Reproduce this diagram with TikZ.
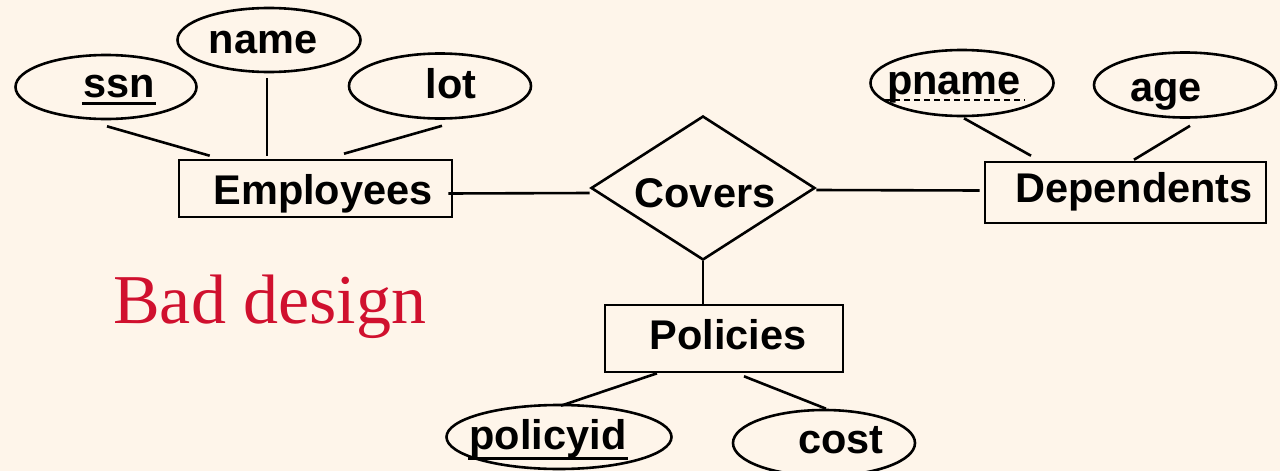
\documentclass[tikz,border=0pt]{standalone}
\usepackage{fontspec}
\setmainfont{Liberation Sans}
\newfontfamily\badfont{Liberation Serif}
\usetikzlibrary{shapes.geometric,calc}
\definecolor{bg}{HTML}{FEF5EA}
\definecolor{badred}{HTML}{D0102E}
\begin{document}
\begin{tikzpicture}[x=1pt,y=-1pt,line width=2.6pt,
  attr/.style={ellipse,draw,inner sep=0pt},
  ent/.style={rectangle,draw,inner sep=0pt},
  rel/.style={diamond,draw,inner sep=0pt},
  lbl/.style={font=\fontsize{41.5}{41.5}\selectfont\bfseries,inner sep=0pt,anchor=base},
  conn/.style={line width=2.6pt},
  uline/.style={line width=3pt},
  duline/.style={line width=1.8pt,dash pattern=on 6pt off 4pt}]
\fill[bg] (0,0) rectangle (1280,471);
\useasboundingbox (0,0) rectangle (1280,471);
\clip (0,0) rectangle (1280,471);

% attribute ellipses
\node[attr,minimum width=181pt,minimum height=64pt] (ssn) at (106,87) {};
\node[attr,minimum width=183pt,minimum height=64pt] (name) at (269,40) {};
\node[attr,minimum width=182pt,minimum height=65pt] (lot) at (440,86) {};
\node[attr,minimum width=183pt,minimum height=66pt] (pname) at (962,83) {};
\node[attr,minimum width=182pt,minimum height=65pt] (age) at (1185,85) {};
\node[attr,minimum width=225pt,minimum height=64pt] (pid) at (559,437) {};
\node[attr,minimum width=182pt,minimum height=66pt] (cost) at (824,443) {};

% entities and relationship
\node[ent,minimum width=273pt,minimum height=57pt] (emp) at (315.5,188.5) {};
\node[ent,minimum width=281pt,minimum height=61pt] (dep) at (1125.5,192.5) {};
\node[ent,minimum width=238pt,minimum height=67pt] (pol) at (724,338.5) {};
\node[rel,minimum width=224pt,minimum height=144pt] (cov) at (703,188) {};

% labels
\node[lbl] (ssnT) at (119,97) {ssn};
\node[lbl] (nameT) at (263,53) {name};
\node[lbl] (lotT) at (451,98) {lot};
\node[lbl] (pnameT) at (954,94) {pname};
\node[lbl] (ageT) at (1166,101) {age};
\node[lbl] (pidT) at (548,449) {policyid};
\node[lbl] (costT) at (841,453) {cost};
\node[lbl] (empT) at (323,204) {Employees};
\node[lbl] (depT) at (1134,202) {Dependents};
\node[lbl] (polT) at (728,349) {Policies};
\node[lbl] (covT) at (705,207) {Covers};
\node[font=\badfont\fontsize{70}{70}\selectfont,text=badred,inner sep=0pt,anchor=base west] (bad) at (112,323) {Bad design};

% key underlines
\draw[uline] ($(ssnT.base west)+(0,6)$) -- ($(ssnT.base east)+(0,6)$);
\draw[uline] ($(pidT.base west)+(0,9)$) -- ($(pidT.base east)+(0,9)$);
\draw[duline] ($(pnameT.base west)+(-2,6)$) -- ($(pnameT.base east)+(3,6)$);

% connectors
\draw[conn] ($(ssn.south)+(1,6)$) -- ($(emp.north west)+(32,-3)$);
\draw[conn] ($(name.south)+(-2,5)$) -- ($(emp.north)+(-48.5,-3)$);
\draw[conn] ($(lot.south)+(2,6)$) -- ($(emp.north)+(28.5,-5)$);
\draw[conn] ($(emp.east)+(-5,5)$) -- ($(cov.west)+(0,5)$);
\draw[conn] ($(cov.east)+(0,2)$) -- ($(dep.west)+(-4,-2)$);
\draw[conn] ($(pname.south)+(2,1)$) -- ($(dep.north)+(-94.5,-5)$);
\draw[conn] ($(age.south)+(5,7)$) -- ($(dep.north)+(8.5,-1)$);
\draw[conn] (cov.south) -- ($(pol.north)+(-21,0)$);
\draw[conn] ($(pol.south)+(-67,0)$) -- ($(pid.north)+(2,2)$);
\draw[conn] ($(pol.south)+(20,3)$) -- ($(cost.north)+(2,0)$);
\end{tikzpicture}
\end{document}
